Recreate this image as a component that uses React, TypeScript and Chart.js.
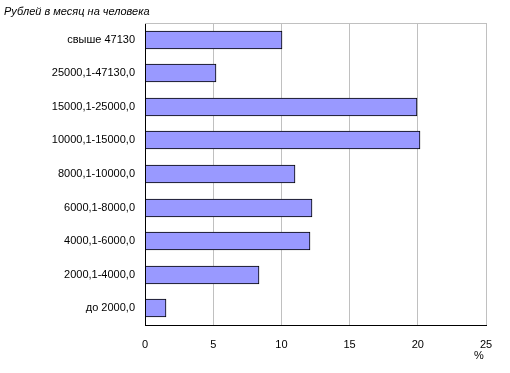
import React, { useEffect, useRef } from "react";
import { Chart, registerables } from "chart.js";

Chart.register(...registerables);

const categories = [
  "свыше 47130",
  "25000,1-47130,0",
  "15000,1-25000,0",
  "10000,1-15000,0",
  "8000,1-10000,0",
  "6000,1-8000,0",
  "4000,1-6000,0",
  "2000,1-4000,0",
  "до 2000,0",
];
const shares = [10.0, 5.1, 19.9, 20.1, 10.9, 12.2, 12.0, 8.3, 1.5];
const xTicks = [0, 5, 10, 15, 20, 25];
const titleText = "Рублей в месяц на человека";
const unitText = "%";

const FONT = "'Liberation Sans', Arial, sans-serif";

export default function App() {
  const ref = useRef<HTMLCanvasElement>(null);
  useEffect(() => {
    document.body.style.margin = "0";
    const canvas = ref.current!;
    const crisp = {
      id: "crisp",
      beforeDatasetsDraw(chart: any) {
        const meta = chart.getDatasetMeta(0);
        meta.data.forEach((el: any) => {
          el.y = Math.round(el.y);
          el.x = Math.round(el.x) + 1;
          el.base = Math.round(el.base);
        });
      },
    };
    const extras = {
      id: "extras",
      afterDraw(chart: any) {
        const ctx = chart.ctx;
        const a = chart.chartArea;
        ctx.save();
        ctx.strokeStyle = "#c0c0c0";
        ctx.lineWidth = 1;
        ctx.beginPath();
        ctx.moveTo(a.left, Math.round(a.top) + 0.5);
        ctx.lineTo(a.right + 0.5, Math.round(a.top) + 0.5);
        ctx.stroke();
        ctx.fillStyle = "#000";
        ctx.font = "italic 11px " + FONT;
        ctx.textAlign = "left";
        ctx.textBaseline = "middle";
        ctx.fillText(titleText, 4, 12);
        ctx.font = "11px " + FONT;
        ctx.textAlign = "center";
        ctx.fillText(unitText, chart.scales.x.getPixelForValue(25) - 7, 356);
        ctx.restore();
      },
    };
    const chart = new Chart(canvas, {
      type: "bar",
      data: {
        labels: categories,
        datasets: [
          {
            data: shares,
            backgroundColor: "#9999ff",
            borderColor: "#000000",
            borderWidth: 1,
            barThickness: 18,
            categoryPercentage: 1,
          },
        ],
      },
      options: {
        indexAxis: "y",
        animation: false,
        responsive: false,
        maintainAspectRatio: false,
        layout: { padding: { left: 0, top: 23, right: 24, bottom: 0 } },
        plugins: {
          legend: { display: false },
          tooltip: { enabled: false },
        },
        scales: {
          x: {
            min: 0,
            max: 25,
            afterBuildTicks: (s: any) => {
              s.ticks = xTicks.map((v) => ({ value: v }));
            },
            afterFit: (s: any) => {
              s.height = 48;
            },
            grid: { color: "#c0c0c0", drawTicks: false },
            border: { color: "#000", width: 1 },
            ticks: {
              color: "#000",
              font: { family: FONT, size: 11 },
              padding: 13,
            },
          },
          y: {
            afterFit: (s: any) => {
              s.width = 145;
            },
            grid: { display: false, drawTicks: false },
            border: { color: "#000", width: 1 },
            ticks: {
              color: "#000",
              font: { family: FONT, size: 11 },
              padding: 10,
            },
          },
        },
      },
      plugins: [crisp, extras],
    });
    return () => chart.destroy();
  }, []);
  return (
    <div style={{ width: 510, height: 373 }}>
      <canvas ref={ref} width={510} height={373} style={{ display: "block" }} />
    </div>
  );
}
